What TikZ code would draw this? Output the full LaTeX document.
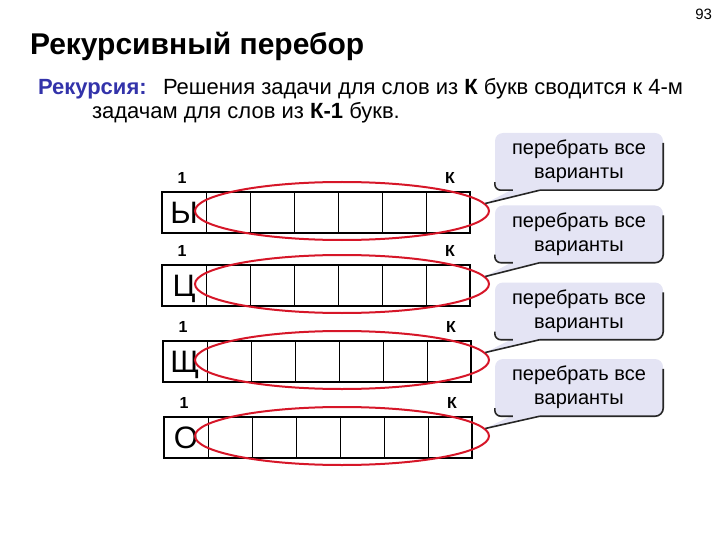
\documentclass[tikz,border=0pt]{standalone}
\usepackage{fontspec}
\setmainfont{Liberation Sans}
\usetikzlibrary{shapes.geometric,calc}
\definecolor{ellred}{RGB}{214,22,40}
\definecolor{cfill}{RGB}{228,228,244}
\definecolor{subblue}{RGB}{51,51,170}
\begin{document}
\begin{tikzpicture}[x=1pt,y=-1pt,
  txt/.style={inner sep=0pt,outer sep=0pt},
  cell/.style={draw,line width=1pt,minimum width=44pt,minimum height=41pt,inner sep=0pt,outer sep=0pt},
  outerbox/.style={line width=2pt},
  letter/.style={inner sep=0pt,font=\fontsize{31}{34}\selectfont},
  idx/.style={inner sep=0pt,font=\bfseries\fontsize{16}{18}\selectfont},
  ell/.style={ellipse,draw=ellred,line width=2pt,minimum width=294pt,minimum height=58pt,inner sep=0pt},
  cbox/.style={rounded corners=8pt,fill=cfill,minimum width=168pt,minimum height=57pt,inner sep=0pt,align=center,font=\fontsize{20}{24}\selectfont},
  shadowline/.style={line width=1.6pt,draw=black!85}
]
\useasboundingbox (0,0) rectangle (720,540);
\node[txt,anchor=base east,font=\fontsize{15}{17}\selectfont] (pg) at (712,20) {93};
\node[txt,anchor=base west,font=\bfseries\fontsize{30}{36}\selectfont] (title) at (30,55) {Рекурсивный перебор};
\node[txt,anchor=base west,font=\bfseries\fontsize{22}{26}\selectfont,text=subblue] (rek) at (38,95) {Рекурсия:};
\node[txt,anchor=base west,font=\fontsize{22}{26}\selectfont] (l1) at (163,95) {Решения задачи для слов из \textbf{К} букв сводится к 4-м};
\node[txt,anchor=base west,font=\fontsize{22}{26}\selectfont] (l2) at (92,119) {задачам для слов из \textbf{К-1} букв.};
\foreach \i/\top/\left/\L in {1/192/162/Ы,2/265/162/Ц,3/341/163/Щ,4/417/164/О}{
  \foreach \j in {0,...,6}
    \node[cell,anchor=north west] (c\i\j) at (\left+\j*44,\top) {};
  \draw[outerbox] (c\i0.north west) rectangle (c\i6.south east);
  \node[letter,anchor=base] (let\i) at (\left+22,\top+31) {\L};
  \node[ell] (ell\i) at (342,\top+19) {};
  \node[idx] (one\i) at (\left+20,\top-14) {1};
  \node[idx] (k\i) at (\left+288,\top-14) {К};
}
\foreach \i/\yc in {1/161.5,2/234,3/311,4/387.5}{
  \node[cbox] (cb\i) at (579,\yc) {перебрать все\\варианты};
  \fill[cfill] ($(cb\i.south west)+(18,-1)$) -- (ell\i.3) -- ($(cb\i.south west)+(45,-1)$) -- cycle;
  \draw[shadowline,rounded corners=8pt] ($(cb\i.north east)+(0,10)$) -- (cb\i.south east) -- ($(cb\i.south west)+(45,0)$);
  \draw[shadowline] ($(cb\i.south west)+(45,0)$) -- (ell\i.3);
  \draw[shadowline,rounded corners=6pt] ($(cb\i.south west)+(18,0)$) -- (cb\i.south west) -- ($(cb\i.south west)+(0,-8)$);
}
\end{tikzpicture}
\end{document}
